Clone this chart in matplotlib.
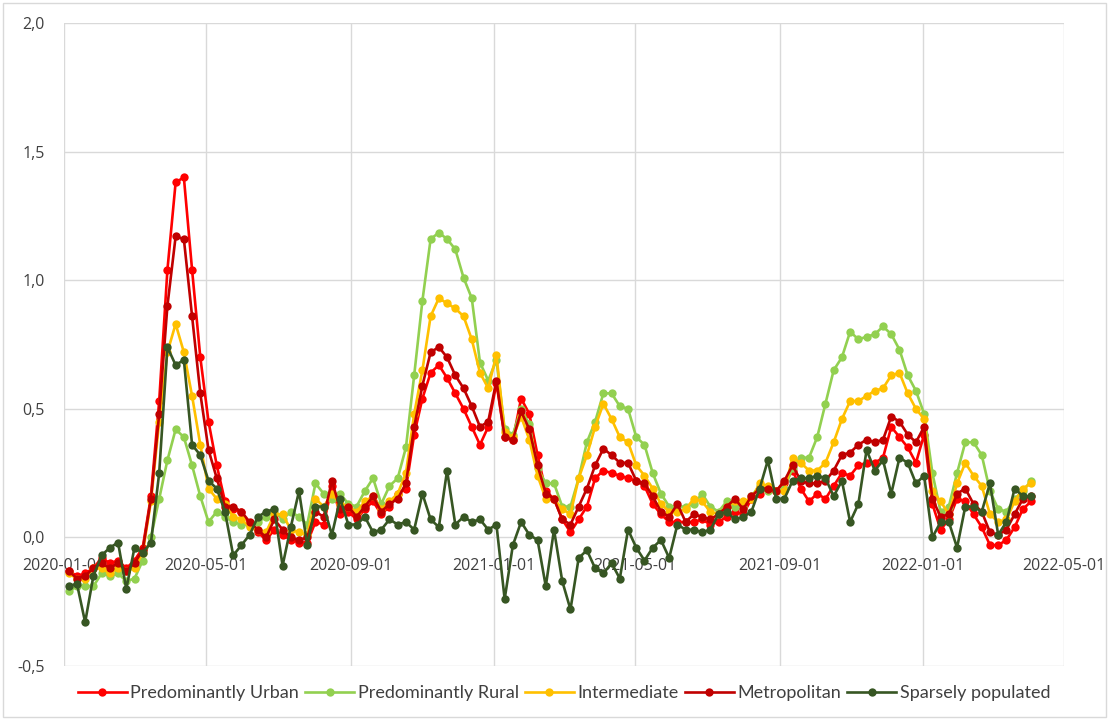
import matplotlib
matplotlib.use("Agg")
import matplotlib.pyplot as plt
from matplotlib.patches import Rectangle
from matplotlib.ticker import FuncFormatter
import pandas as pd

start_date = "2020-01-05"
n_weeks = 118

urban = [-0.13, -0.15, -0.14, -0.12, -0.08, -0.10, -0.09, -0.12, -0.09, -0.04,
         0.16, 0.53, 1.04, 1.38, 1.40, 1.04, 0.70, 0.45, 0.28, 0.14,
         0.11, 0.10, 0.05, 0.02, -0.01, 0.03, 0.01, -0.01, -0.02, -0.02,
         0.06, 0.05, 0.20, 0.09, 0.10, 0.07, 0.11, 0.14, 0.09, 0.12,
         0.17, 0.19, 0.40, 0.54, 0.64, 0.67, 0.62, 0.56, 0.50, 0.43,
         0.36, 0.43, 0.60, 0.39, 0.38, 0.54, 0.48, 0.32, 0.18, 0.15,
         0.07, 0.02, 0.07, 0.12, 0.23, 0.26, 0.25, 0.24, 0.23, 0.22,
         0.20, 0.13, 0.09, 0.06, 0.06, 0.06, 0.06, 0.07, 0.05, 0.06,
         0.08, 0.10, 0.09, 0.15, 0.17, 0.19, 0.18, 0.21, 0.26, 0.19,
         0.14, 0.17, 0.15, 0.20, 0.25, 0.24, 0.28, 0.29, 0.29, 0.31,
         0.43, 0.39, 0.35, 0.29, 0.40, 0.13, 0.03, 0.07, 0.15, 0.14,
         0.09, 0.04, -0.03, -0.03, -0.01, 0.04, 0.11, 0.14]

rural = [-0.21, -0.19, -0.19, -0.19, -0.14, -0.15, -0.14, -0.17, -0.16, -0.09,
         0.00, 0.15, 0.30, 0.42, 0.39, 0.28, 0.16, 0.06, 0.10, 0.08,
         0.06, 0.05, 0.05, 0.06, 0.08, 0.10, 0.07, 0.10, 0.08, 0.05,
         0.21, 0.17, 0.15, 0.17, 0.13, 0.12, 0.18, 0.23, 0.13, 0.20,
         0.23, 0.35, 0.63, 0.92, 1.16, 1.185, 1.16, 1.12, 1.01, 0.93,
         0.68, 0.61, 0.69, 0.42, 0.40, 0.50, 0.44, 0.27, 0.21, 0.21,
         0.12, 0.12, 0.23, 0.37, 0.45, 0.56, 0.56, 0.51, 0.50, 0.39,
         0.36, 0.25, 0.17, 0.12, 0.12, 0.12, 0.13, 0.17, 0.12, 0.10,
         0.14, 0.12, 0.12, 0.16, 0.20, 0.18, 0.18, 0.19, 0.27, 0.31,
         0.31, 0.39, 0.52, 0.65, 0.70, 0.80, 0.77, 0.78, 0.79, 0.82,
         0.79, 0.73, 0.63, 0.57, 0.48, 0.25, 0.10, 0.12, 0.25, 0.37,
         0.37, 0.32, 0.18, 0.11, 0.10, 0.15, 0.18, 0.22]

intermediate = [-0.14, -0.16, -0.16, -0.12, -0.12, -0.14, -0.12, -0.13, -0.12, -0.06,
                0.14, 0.45, 0.72, 0.83, 0.72, 0.55, 0.36, 0.19, 0.15, 0.13,
                0.08, 0.07, 0.04, 0.03, 0.02, 0.09, 0.09, 0.03, 0.02, 0.01,
                0.15, 0.12, 0.17, 0.13, 0.12, 0.10, 0.14, 0.16, 0.11, 0.14,
                0.17, 0.25, 0.48, 0.65, 0.86, 0.93, 0.91, 0.89, 0.86, 0.77,
                0.64, 0.58, 0.71, 0.41, 0.39, 0.47, 0.38, 0.24, 0.15, 0.15,
                0.11, 0.09, 0.23, 0.32, 0.43, 0.52, 0.46, 0.39, 0.37, 0.28,
                0.24, 0.19, 0.13, 0.10, 0.10, 0.11, 0.15, 0.14, 0.10, 0.09,
                0.12, 0.14, 0.14, 0.15, 0.21, 0.20, 0.18, 0.18, 0.31, 0.29,
                0.26, 0.26, 0.29, 0.37, 0.46, 0.53, 0.53, 0.55, 0.57, 0.58,
                0.63, 0.64, 0.56, 0.50, 0.46, 0.18, 0.14, 0.09, 0.21, 0.29,
                0.24, 0.20, 0.09, 0.06, 0.07, 0.14, 0.19, 0.21]

metropolitan = [-0.13, -0.16, -0.15, -0.12, -0.10, -0.12, -0.10, -0.13, -0.10, -0.05,
                0.15, 0.48, 0.90, 1.17, 1.16, 0.86, 0.56, 0.34, 0.23, 0.12,
                0.12, 0.10, 0.06, 0.03, 0.00, 0.07, 0.03, 0.00, -0.01, 0.00,
                0.10, 0.08, 0.22, 0.11, 0.12, 0.08, 0.12, 0.16, 0.10, 0.13,
                0.15, 0.21, 0.43, 0.59, 0.72, 0.74, 0.70, 0.63, 0.58, 0.51,
                0.43, 0.45, 0.61, 0.39, 0.38, 0.49, 0.42, 0.28, 0.17, 0.15,
                0.07, 0.05, 0.12, 0.19, 0.28, 0.345, 0.32, 0.29, 0.29, 0.22,
                0.21, 0.16, 0.10, 0.08, 0.13, 0.06, 0.09, 0.08, 0.07, 0.09,
                0.12, 0.15, 0.11, 0.16, 0.19, 0.19, 0.18, 0.22, 0.28, 0.22,
                0.21, 0.21, 0.22, 0.26, 0.32, 0.33, 0.36, 0.38, 0.37, 0.38,
                0.47, 0.45, 0.40, 0.37, 0.43, 0.15, 0.08, 0.09, 0.17, 0.19,
                0.13, 0.10, 0.02, 0.01, 0.03, 0.09, 0.15, 0.16]

sparsely = [-0.19, -0.18, -0.33, -0.15, -0.07, -0.04, -0.02, -0.20, -0.04, -0.06,
            -0.02, 0.25, 0.74, 0.67, 0.69, 0.36, 0.32, 0.22, 0.19, 0.10,
            -0.07, -0.03, 0.01, 0.08, 0.10, 0.11, -0.11, 0.04, 0.18, -0.03,
            0.12, 0.12, 0.01, 0.15, 0.05, 0.05, 0.08, 0.02, 0.03, 0.07,
            0.05, 0.06, 0.03, 0.17, 0.07, 0.04, 0.26, 0.05, 0.08, 0.06,
            0.07, 0.03, 0.05, -0.24, -0.03, 0.06, 0.01, -0.01, -0.19, 0.03,
            -0.17, -0.28, -0.08, -0.05, -0.12, -0.14, -0.10, -0.16, 0.03, -0.04,
            -0.09, -0.04, -0.01, -0.08, 0.05, 0.03, 0.03, 0.02, 0.03, 0.09,
            0.10, 0.07, 0.08, 0.10, 0.19, 0.30, 0.15, 0.15, 0.22, 0.23,
            0.23, 0.24, 0.23, 0.16, 0.22, 0.06, 0.13, 0.34, 0.26, 0.30,
            0.17, 0.31, 0.29, 0.21, 0.24, 0.00, 0.06, 0.06, -0.04, 0.12,
            0.12, 0.10, 0.21, 0.01, 0.06, 0.19, 0.16, 0.16]

series_names = ["Predominantly Urban", "Predominantly Rural", "Intermediate",
                "Metropolitan", "Sparsely populated"]
series_colors = ["#FF0000", "#92D050", "#FFC000", "#C00000", "#375623"]
x_ticks = ["2020-01-01", "2020-05-01", "2020-09-01", "2021-01-01",
           "2021-05-01", "2021-09-01", "2022-01-01", "2022-05-01"]
y_ticks = [-0.5, 0.0, 0.5, 1.0, 1.5, 2.0]

dates = pd.date_range(start_date, periods=n_weeks, freq="7D")
all_series = [urban, rural, intermediate, metropolitan, sparsely]

fig = plt.figure(figsize=(11.09, 7.2), dpi=100)
ax = fig.add_axes([64 / 1109, 1 - 666 / 720, 1000 / 1109, 643 / 720])

for name, vals, col in zip(series_names, all_series, series_colors):
    ax.plot(dates, vals, color=col, lw=1.9, marker="o", ms=6,
            markeredgewidth=0, label=name)

tick_dates = pd.to_datetime(x_ticks)
ax.set_xlim(tick_dates[0], tick_dates[-1])
ax.set_xticks(tick_dates)
ax.set_xticklabels(x_ticks)
ax.set_ylim(-0.5, 2.0)
ax.set_yticks(y_ticks)
ax.yaxis.set_major_formatter(FuncFormatter(lambda v, p: f"{v:.1f}".replace(".", ",")))

ax.grid(True, color="#d9d9d9", lw=1.0)
ax.set_axisbelow(True)
for s in ax.spines.values():
    s.set_visible(False)
ax.spines["bottom"].set_position(("data", 0))
ax.tick_params(axis="x", length=0, pad=15, labelsize=11.5, labelcolor="#404040")
ax.tick_params(axis="y", length=0, pad=14, labelsize=11.5, labelcolor="#404040")
for lab in ax.get_xticklabels() + ax.get_yticklabels():
    lab.set_family(["Open Sans", "DejaVu Sans"])

leg = fig.legend(loc="center", bbox_to_anchor=(564 / 1109, 1 - 693 / 720),
                 ncol=5, frameon=False, handlelength=2.7, handletextpad=0.2,
                 columnspacing=0.35, prop={"family": ["Lato", "DejaVu Sans"], "size": 13})
for t in leg.get_texts():
    t.set_color("#404040")

fig.patches.append(Rectangle((3 / 1109, 3 / 720), 1103 / 1109, 714 / 720,
                             transform=fig.transFigure, fill=False,
                             edgecolor="#d9d9d9", lw=1.0))

fig.savefig("out.png", dpi=100)
